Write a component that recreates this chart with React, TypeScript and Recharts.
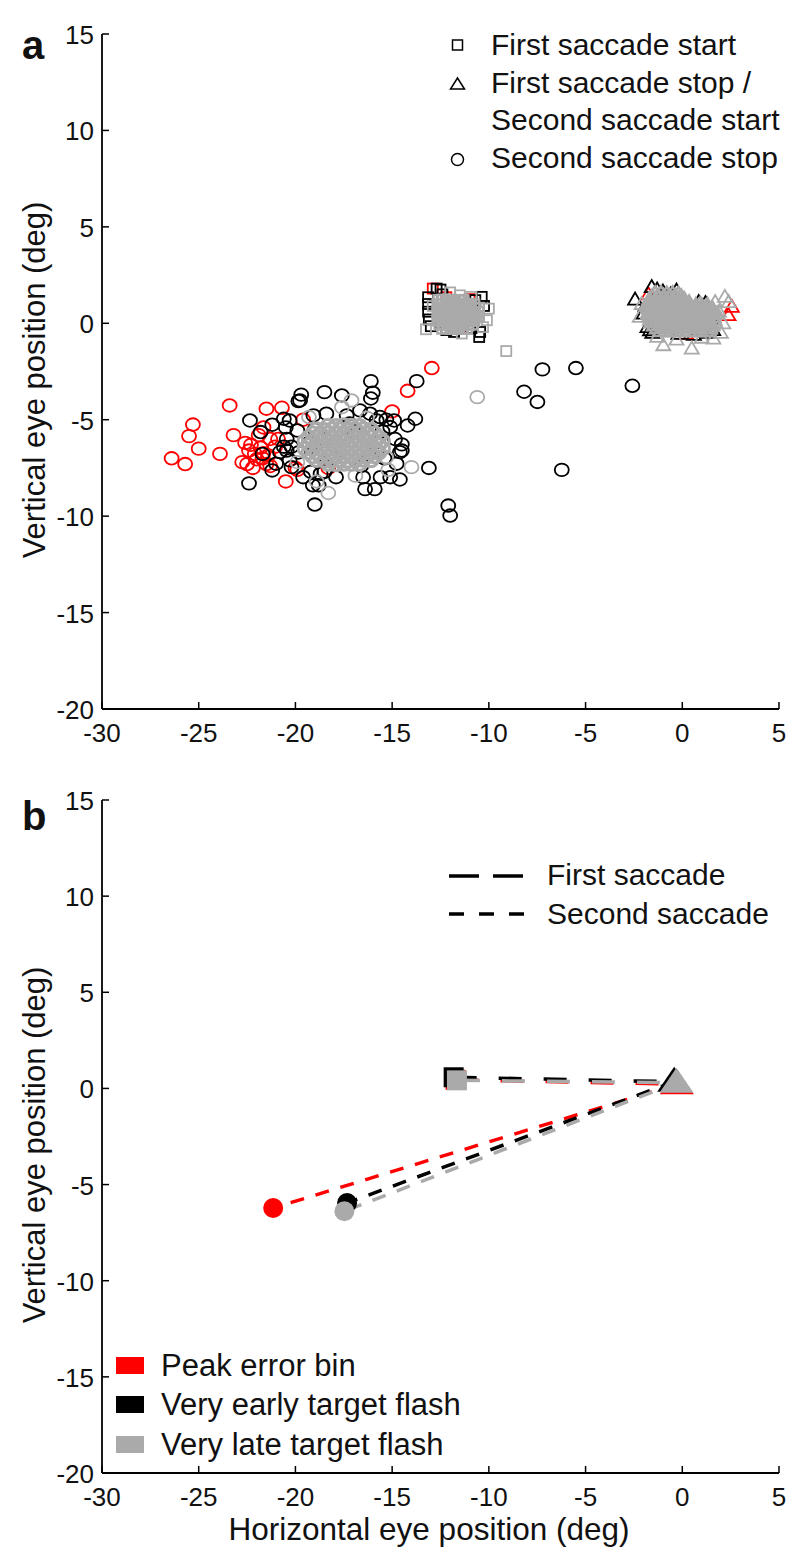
import React from "react";
import { ScatterChart, Scatter, XAxis, YAxis } from "recharts";

type Pt = [number, number];

const xTicks = [-30, -25, -20, -15, -10, -5, 0, 5];
const yTicks = [-20, -15, -10, -5, 0, 5, 10, 15];

// ---- panel a: first saccade start (squares)
const redStart: Pt[] = [[-12.9, 1.8], [-11.0, 1.25], [-12.2, 1.35], [-10.8, 0.5], [-11.5, -0.3]];
const blackStart: Pt[] = [
  [-12.7, 1.8], [-13.14, 1.35], [-13.14, 1.0], [-13.14, 0.6], [-13.1, 0.2], [-13.0, -0.15], [-12.5, 1.75],
  [-10.37, 1.37], [-10.5, -0.71], [-10.45, -0.45], [-12.2, -0.35], [-11.8, -0.45], [-10.9, -0.25], [-12.4, 1.5],
  [-10.25, 0.9], [-12.0, 0.6], [-11.2, 0.2], [-11.6, 1.0], [-12.4, 0.0], [-10.7, 1.2],
];
const grayStart: Pt[] = [
  [-13.25, -0.31], [-9.1, -1.44], [-11.4, -0.53], [-10.9, 1.37], [-12.0, 1.6], [-10.0, 0.76], [-10.1, 0.16],
  [-12.9, 0.9], [-10.3, -0.2], [-11.5, 1.45],
];
const grayStartCore: Pt[] = [
  [-12.6, 1.2], [-12.39, 1.22], [-12.18, 1.19], [-11.97, 1.21], [-11.76, 1.2], [-11.55, 1.18], [-11.34, 1.2],
  [-12.65, 0.99], [-12.44, 1.0], [-12.23, 0.98], [-12.02, 1.0], [-11.81, 0.99], [-11.6, 1.01], [-11.39, 0.98], [-11.18, 0.99], [-10.97, 1.0], [-10.76, 0.97],
  [-12.62, 0.78], [-12.41, 0.79], [-12.2, 0.77], [-11.99, 0.78], [-11.78, 0.8], [-11.57, 0.78], [-11.36, 0.77], [-11.15, 0.79], [-10.94, 0.78], [-10.73, 0.77], [-10.52, 0.79],
  [-12.65, 0.57], [-12.44, 0.58], [-12.23, 0.56], [-12.02, 0.57], [-11.81, 0.59], [-11.6, 0.57], [-11.39, 0.56], [-11.18, 0.58], [-10.97, 0.57], [-10.76, 0.56], [-10.55, 0.58],
  [-12.62, 0.36], [-12.41, 0.37], [-12.2, 0.35], [-11.99, 0.36], [-11.78, 0.38], [-11.57, 0.36], [-11.36, 0.35], [-11.15, 0.37], [-10.94, 0.36], [-10.73, 0.35], [-10.52, 0.37],
  [-12.65, 0.15], [-12.44, 0.16], [-12.23, 0.14], [-12.02, 0.15], [-11.81, 0.17], [-11.6, 0.15], [-11.39, 0.14], [-11.18, 0.16], [-10.97, 0.15], [-10.76, 0.14],
  [-12.55, -0.06], [-12.34, -0.05], [-12.13, -0.07], [-11.92, -0.06], [-11.71, -0.04], [-11.5, -0.06], [-11.29, -0.07], [-11.08, -0.05], [-10.87, -0.06],
  [-12.4, -0.27], [-12.19, -0.26], [-11.98, -0.28], [-11.77, -0.27], [-11.56, -0.25], [-11.35, -0.27], [-11.14, -0.28],
];

// ---- panel a: first saccade stop / second saccade start (triangles)
const redMid: Pt[] = [[2.56, 0.85], [2.39, 0.42], [-1.75, 1.5], [-1.2, 1.3], [1.4, 0.0], [0.2, -0.55], [-1.4, 0.5]];
const blackMid: Pt[] = [
  [-2.44, 1.23], [-1.58, 1.88], [-1.67, -0.36], [-1.9, 0.9], [-1.3, 1.75], [-1.0, 1.65], [-0.6, 1.5], [-0.3, 1.7],
  [0.85, 1.1], [1.2, 1.05], [-1.55, -0.5], [-0.2, -0.55], [0.6, -0.6], [1.5, 0.25], [-2.0, 0.5], [-0.8, 0.6],
  [0.3, 0.2], [-1.2, 0.0], [0.9, -0.3], [1.6, -0.35], [-1.8, -0.2], [0.0, 0.9], [1.3, -0.5],
];
const grayMid: Pt[] = [
  [-2.2, 0.33], [-0.98, -1.14], [0.49, -1.31], [1.61, -0.8], [2.2, 1.37], [2.12, 0.0], [0.92, 1.02], [2.4, 1.1],
  [1.9, 0.6], [1.0, -0.75], [-0.3, -0.85], [-2.1, 1.0], [2.0, -0.5], [-1.3, -0.7], [1.7, 1.1],
];
const grayMidCore: Pt[] = [
  [-1.4, 1.55], [-1.1, 1.56], [-0.8, 1.54], [-0.5, 1.55], [-0.2, 1.53],
  [-1.55, 1.4], [-1.25, 1.41], [-0.95, 1.39], [-0.65, 1.4], [-0.35, 1.42], [-0.05, 1.39],
  [-1.7, 1.25], [-1.4, 1.26], [-1.1, 1.24], [-0.8, 1.25], [-0.5, 1.27], [-0.2, 1.24], [0.1, 1.25],
  [-1.75, 1.1], [-1.45, 1.11], [-1.15, 1.09], [-0.85, 1.1], [-0.55, 1.12], [-0.25, 1.09], [0.05, 1.1], [0.35, 1.08],
  [-1.7, 0.95], [-1.4, 0.96], [-1.1, 0.94], [-0.8, 0.95], [-0.5, 0.97], [-0.2, 0.94], [0.1, 0.95], [0.4, 0.96], [0.7, 0.94], [1.0, 0.93], [1.3, 0.95],
  [-1.75, 0.8], [-1.45, 0.81], [-1.15, 0.79], [-0.85, 0.8], [-0.55, 0.82], [-0.25, 0.79], [0.05, 0.8], [0.35, 0.81], [0.65, 0.79], [0.95, 0.8], [1.25, 0.82], [1.55, 0.79],
  [-1.7, 0.65], [-1.4, 0.66], [-1.1, 0.64], [-0.8, 0.65], [-0.5, 0.67], [-0.2, 0.64], [0.1, 0.65], [0.4, 0.66], [0.7, 0.64], [1.0, 0.65], [1.3, 0.67], [1.6, 0.64],
  [-1.75, 0.5], [-1.45, 0.51], [-1.15, 0.49], [-0.85, 0.5], [-0.55, 0.52], [-0.25, 0.49], [0.05, 0.5], [0.35, 0.51], [0.65, 0.49], [0.95, 0.5], [1.25, 0.52], [1.55, 0.49], [1.8, 0.5],
  [-1.7, 0.35], [-1.4, 0.36], [-1.1, 0.34], [-0.8, 0.35], [-0.5, 0.37], [-0.2, 0.34], [0.1, 0.35], [0.4, 0.36], [0.7, 0.34], [1.0, 0.35], [1.3, 0.37], [1.6, 0.34],
  [-1.65, 0.2], [-1.35, 0.21], [-1.05, 0.19], [-0.75, 0.2], [-0.45, 0.22], [-0.15, 0.19], [0.15, 0.2], [0.45, 0.21], [0.75, 0.19], [1.05, 0.2], [1.35, 0.22], [1.65, 0.19],
  [-1.6, 0.05], [-1.3, 0.06], [-1.0, 0.04], [-0.7, 0.05], [-0.4, 0.07], [-0.1, 0.04], [0.2, 0.05], [0.5, 0.06], [0.8, 0.04], [1.1, 0.05], [1.4, 0.07], [1.7, 0.04],
  [-1.45, -0.1], [-1.15, -0.09], [-0.85, -0.11], [-0.55, -0.1], [-0.25, -0.08], [0.05, -0.11], [0.35, -0.1], [0.65, -0.09], [0.95, -0.11], [1.25, -0.1], [1.55, -0.08],
  [-1.3, -0.25], [-1.0, -0.24], [-0.7, -0.26], [-0.4, -0.25], [-0.1, -0.23], [0.2, -0.26], [0.5, -0.25], [0.8, -0.24], [1.1, -0.26], [1.4, -0.25],
  [-1.15, -0.4], [-0.85, -0.39], [-0.55, -0.41], [-0.25, -0.4], [0.05, -0.38], [0.35, -0.41], [0.65, -0.4], [0.95, -0.39], [1.25, -0.41],
];

// ---- panel a: second saccade stop (circles)
const redStop: Pt[] = [
  [-26.4, -7.0], [-25.7, -7.3], [-25.5, -5.85], [-25.3, -5.25], [-25.0, -6.5], [-23.9, -6.77], [-23.4, -4.26],
  [-23.2, -5.8], [-22.6, -6.2], [-22.75, -7.2], [-22.5, -7.3], [-22.2, -7.5], [-22.1, -6.77], [-21.9, -5.8],
  [-21.65, -5.4], [-21.5, -4.43], [-20.7, -4.38], [-21.65, -6.73], [-21.7, -7.0], [-20.5, -8.2], [-21.3, -6.0],
  [-21.05, -6.4], [-22.4, -6.6], [-22.0, -7.05], [-21.8, -6.45], [-22.3, -6.3], [-21.4, -6.85], [-21.5, -7.3],
  [-20.9, -6.0], [-19.9, -7.6], [-21.3, -7.4], [-20.0, -7.5], [-18.3, -7.5], [-15.0, -4.57], [-14.2, -3.5],
  [-12.95, -2.32], [-19.6, -5.0],
];
const blackStop: Pt[] = [
  [-19.7, -3.7], [-19.85, -4.03], [-22.35, -5.04], [-21.8, -5.64], [-21.2, -5.26], [-20.6, -4.95], [-21.7, -6.77],
  [-20.8, -6.68], [-21.2, -7.63], [-22.4, -8.3], [-20.2, -7.46], [-16.1, -3.0], [-16.1, -3.9], [-16.0, -3.6],
  [-18.5, -3.57], [-17.6, -3.74], [-13.73, -3.0], [-13.8, -4.95], [-13.1, -7.5], [-19.0, -9.4], [-14.6, -8.1],
  [-14.9, -5.04], [-14.5, -6.28], [-14.5, -6.6], [-15.6, -7.98], [-16.4, -8.6], [-15.9, -8.6], [-16.66, -4.52],
  [-15.8, -5.04], [-15.3, -5.0], [-12.1, -9.45], [-12.0, -9.97], [-18.7, -7.8], [-19.1, -8.4], [-7.23, -2.39],
  [-5.5, -2.32], [-8.18, -3.55], [-7.49, -4.08], [-2.58, -3.24], [-6.23, -7.6],
  [-20.5, -5.4], [-20.45, -6.0], [-20.45, -6.6], [-19.85, -6.7], [-19.2, -7.7], [-18.5, -7.7], [-17.9, -7.98],
  [-16.5, -7.98], [-15.1, -7.98], [-14.77, -7.28], [-14.6, -6.68], [-14.85, -6.0], [-15.1, -5.38], [-15.63, -4.86],
  [-16.14, -4.69], [-17.35, -4.78], [-18.4, -4.69], [-19.07, -4.78], [-19.76, -4.0],
  [-20.3, -5.04], [-19.9, -5.56], [-20.2, -6.4], [-20.6, -6.4], [-20.3, -7.1], [-21.0, -7.28], [-19.6, -7.98], [-18.8, -8.4],
  [-18.5, -6.0], [-17.0, -5.6], [-16.2, -6.8], [-18.0, -7.0], [-17.5, -6.5], [-19.0, -5.5], [-15.9, -6.2],
  [-16.6, -7.4], [-18.8, -6.8], [-17.2, -5.2], [-19.3, -6.2], [-15.4, -7.0], [-15.5, -5.6], [-14.2, -5.3],
];
const grayStop: Pt[] = [
  [-10.6, -3.83], [-18.3, -8.8], [-17.1, -4.0], [-17.6, -4.35], [-14.0, -7.46], [-19.3, -4.86], [-15.3, -6.94],
  [-16.3, -4.9], [-15.2, -7.6], [-18.9, -8.2], [-16.9, -7.9], [-19.9, -7.2],
];
const grayStopCore: Pt[] = [
  [-18.3, -5.3], [-17.9, -5.32], [-17.5, -5.28], [-17.1, -5.3], [-16.7, -5.31],
  [-18.9, -5.5], [-18.5, -5.52], [-18.1, -5.49], [-17.7, -5.5], [-17.3, -5.53], [-16.9, -5.5], [-16.5, -5.48], [-16.1, -5.51],
  [-19.1, -5.7], [-18.7, -5.72], [-18.3, -5.69], [-17.9, -5.7], [-17.5, -5.73], [-17.1, -5.7], [-16.7, -5.68], [-16.3, -5.71], [-15.9, -5.7],
  [-19.3, -5.9], [-18.9, -5.92], [-18.5, -5.89], [-18.1, -5.9], [-17.7, -5.93], [-17.3, -5.9], [-16.9, -5.88], [-16.5, -5.91], [-16.1, -5.9], [-15.7, -5.92],
  [-19.5, -6.1], [-19.1, -6.12], [-18.7, -6.09], [-18.3, -6.1], [-17.9, -6.13], [-17.5, -6.1], [-17.1, -6.08], [-16.7, -6.11], [-16.3, -6.1], [-15.9, -6.12], [-15.5, -6.09],
  [-19.3, -6.3], [-18.9, -6.32], [-18.5, -6.29], [-18.1, -6.3], [-17.7, -6.33], [-17.3, -6.3], [-16.9, -6.28], [-16.5, -6.31], [-16.1, -6.3], [-15.7, -6.32],
  [-19.5, -6.5], [-19.1, -6.52], [-18.7, -6.49], [-18.3, -6.5], [-17.9, -6.53], [-17.5, -6.5], [-17.1, -6.48], [-16.7, -6.51], [-16.3, -6.5], [-15.9, -6.52], [-15.5, -6.49],
  [-19.3, -6.7], [-18.9, -6.72], [-18.5, -6.69], [-18.1, -6.7], [-17.7, -6.73], [-17.3, -6.7], [-16.9, -6.68], [-16.5, -6.71], [-16.1, -6.7], [-15.7, -6.72],
  [-19.1, -6.9], [-18.7, -6.92], [-18.3, -6.89], [-17.9, -6.9], [-17.5, -6.93], [-17.1, -6.9], [-16.7, -6.88], [-16.3, -6.91], [-15.9, -6.9],
  [-18.9, -7.1], [-18.5, -7.12], [-18.1, -7.09], [-17.7, -7.1], [-17.3, -7.13], [-16.9, -7.1], [-16.5, -7.08], [-16.1, -7.11],
  [-18.3, -7.3], [-17.9, -7.32], [-17.5, -7.29], [-17.1, -7.3], [-16.7, -7.31],
];

// ---- panel b: mean positions [start, first stop / second start, second stop]
const peakPath: Pt[] = [[-11.72, 0.45], [-0.28, 0.22], [-21.15, -6.22]];
const earlyPath: Pt[] = [[-11.82, 0.58], [-0.42, 0.35], [-17.33, -5.96]];
const latePath: Pt[] = [[-11.65, 0.42], [-0.3, 0.3], [-17.47, -6.39]];

const RED = "#ff0000";
const BLACK = "#000000";
const GRAY = "#aaaaaa";
const FONT = "'Liberation Sans', Arial, Helvetica, sans-serif";

const toData = (pts: Pt[]) => pts.map(([x, y]) => ({ x, y }));

const ring = (color: string, w = 1.8) => (p: any) =>
  <ellipse cx={p.cx} cy={p.cy} rx={7} ry={6.3} fill="none" stroke={color} strokeWidth={w} />;
const box = (color: string, w = 1.8) => (p: any) =>
  <rect x={p.cx - 5} y={p.cy - 5} width={10} height={10} fill="none" stroke={color} strokeWidth={w} />;
const tri = (color: string, w = 1.8) => (p: any) =>
  <polygon points={`${p.cx},${p.cy - 7} ${p.cx - 7},${p.cy + 5} ${p.cx + 7},${p.cy + 5}`} fill="none" stroke={color} strokeWidth={w} />;

const dot = (color: string) => (p: any) => <circle cx={p.cx} cy={p.cy} r={10} fill={color} />;
const bigBox = (color: string) => (p: any) =>
  <rect x={p.cx - 10} y={p.cy - 10} width={20} height={20} fill={color} />;
const bigTri = (color: string) => (p: any) =>
  <polygon points={`${p.cx},${p.cy - 15} ${p.cx - 17},${p.cy + 10} ${p.cx + 17},${p.cy + 10}`} fill={color} />;
const none = () => <g />;

const XTick = (p: any) => (
  <g>
    <line x1={p.x} x2={p.x} y1={p.y} y2={p.y - 7} stroke="#000" strokeWidth={1.5} />
    <text x={p.x} y={p.y + 33} textAnchor="middle" fontSize={26} fontFamily={FONT} fill="#111">
      {p.payload.value}
    </text>
  </g>
);

const YTick = (p: any) => (
  <g>
    <line x1={p.x} x2={p.x + 7} y1={p.y} y2={p.y} stroke="#000" strokeWidth={1.5} />
    <text x={p.x - 8} y={p.y + 10} textAnchor="end" fontSize={26} fontFamily={FONT} fill="#111">
      {p.payload.value}
    </text>
  </g>
);

function PanelA() {
  return (
    <ScatterChart width={800} height={760} margin={{ top: 34, right: 21, bottom: 11, left: 42 }}>
      <XAxis type="number" dataKey="x" domain={[-30, 5]} ticks={xTicks} interval={0} height={40}
        tickSize={0} tickMargin={0} tick={<XTick />} axisLine={{ stroke: "#000", strokeWidth: 1.8 }} />
      <YAxis type="number" dataKey="y" domain={[-20, 15]} ticks={yTicks} interval={0} width={60}
        tickSize={0} tickMargin={0} tick={<YTick />} axisLine={{ stroke: "#000", strokeWidth: 1.8 }} />
      <Scatter data={toData(redStop)} shape={ring(RED)} isAnimationActive={false} />
      <Scatter data={toData(redStart)} shape={box(RED)} isAnimationActive={false} />
      <Scatter data={toData(redMid)} shape={tri(RED)} isAnimationActive={false} />
      <Scatter data={toData(blackStop)} shape={ring(BLACK)} isAnimationActive={false} />
      <Scatter data={toData(blackStart)} shape={box(BLACK)} isAnimationActive={false} />
      <Scatter data={toData(blackMid)} shape={tri(BLACK)} isAnimationActive={false} />
      <Scatter data={toData(grayStop)} shape={ring(GRAY)} isAnimationActive={false} />
      <Scatter data={toData(grayStopCore)} shape={ring(GRAY, 3)} isAnimationActive={false} />
      <Scatter data={toData(grayStart)} shape={box(GRAY)} isAnimationActive={false} />
      <Scatter data={toData(grayStartCore)} shape={box(GRAY, 2.4)} isAnimationActive={false} />
      <Scatter data={toData(grayMid)} shape={tri(GRAY)} isAnimationActive={false} />
      <Scatter data={toData(grayMidCore)} shape={tri(GRAY, 2.4)} isAnimationActive={false} />
    </ScatterChart>
  );
}

const paths: [Pt[], string][] = [[peakPath, RED], [earlyPath, BLACK], [latePath, GRAY]];

function PanelB() {
  return (
    <ScatterChart width={800} height={800} margin={{ top: 40, right: 21, bottom: 47, left: 42 }}>
      <XAxis type="number" dataKey="x" domain={[-30, 5]} ticks={xTicks} interval={0} height={40}
        tickSize={0} tickMargin={0} tick={<XTick />} axisLine={{ stroke: "#000", strokeWidth: 1.8 }} />
      <YAxis type="number" dataKey="y" domain={[-20, 15]} ticks={yTicks} interval={0} width={60}
        tickSize={0} tickMargin={0} tick={<YTick />} axisLine={{ stroke: "#000", strokeWidth: 1.8 }} />
      {paths.map(([p, c], i) => (
        <Scatter key={"f" + i} data={toData([p[0], p[1]])} shape={none} isAnimationActive={false}
          line={{ stroke: c, strokeWidth: 3.5, strokeDasharray: "23 22" }} />
      ))}
      {paths.map(([p, c], i) => (
        <Scatter key={"s" + i} data={toData([p[1], p[2]])} shape={none} isAnimationActive={false}
          line={{ stroke: c, strokeWidth: 3.5, strokeDasharray: "14 12" }} />
      ))}
      {paths.map(([p, c], i) => (
        <Scatter key={"q" + i} data={toData([p[0]])} shape={bigBox(c)} isAnimationActive={false} />
      ))}
      {paths.map(([p, c], i) => (
        <Scatter key={"t" + i} data={toData([p[1]])} shape={bigTri(c)} isAnimationActive={false} />
      ))}
      {paths.map(([p, c], i) => (
        <Scatter key={"c" + i} data={toData([p[2]])} shape={dot(c)} isAnimationActive={false} />
      ))}
    </ScatterChart>
  );
}

function Overlay() {
  const t = { fontFamily: FONT, fill: "#111" } as const;
  return (
    <svg width={800} height={1560} style={{ position: "absolute", left: 0, top: 0, pointerEvents: "none" }}>
      <text x={22} y={59} fontSize={40} fontWeight="bold" {...t}>a</text>
      <text x={22} y={830} fontSize={40} fontWeight="bold" {...t}>b</text>
      <text transform="translate(45,380) rotate(-90)" textAnchor="middle" fontSize={31} {...t}>Vertical eye position (deg)</text>
      <text transform="translate(45,1145) rotate(-90)" textAnchor="middle" fontSize={31} {...t}>Vertical eye position (deg)</text>
      <text x={429} y={1540} textAnchor="middle" fontSize={31.5} {...t}>Horizontal eye position (deg)</text>

      <rect x={452.5} y={40} width={10} height={10} fill="none" stroke="#000" strokeWidth={1.5} />
      <polygon points="457.5,78 450.5,89 464.5,89" fill="none" stroke="#000" strokeWidth={1.5} />
      <circle cx={457.5} cy={159.5} r={6} fill="none" stroke="#000" strokeWidth={1.5} />
      <text x={491} y={55} fontSize={30} {...t}>First saccade start</text>
      <text x={491} y={93} fontSize={30} {...t}>First saccade stop /</text>
      <text x={491} y={130} fontSize={30} {...t}>Second saccade start</text>
      <text x={491} y={168} fontSize={30} {...t}>Second saccade stop</text>

      <line x1={449} x2={523} y1={876} y2={876} stroke="#000" strokeWidth={3.5} strokeDasharray="30 14" />
      <line x1={449} x2={525} y1={914} y2={914} stroke="#000" strokeWidth={3.5} strokeDasharray="15 15" />
      <text x={547} y={885} fontSize={30} {...t}>First saccade</text>
      <text x={547} y={924} fontSize={30} {...t}>Second saccade</text>

      <rect x={116} y={1357} width={28} height={17} fill={RED} />
      <rect x={116} y={1396} width={28} height={17} fill={BLACK} />
      <rect x={116} y={1436} width={28} height={17} fill={GRAY} />
      <text x={161} y={1376} fontSize={31} {...t}>Peak error bin</text>
      <text x={161} y={1415} fontSize={31} {...t}>Very early target flash</text>
      <text x={161} y={1455} fontSize={31} {...t}>Very late target flash</text>
    </svg>
  );
}

export default function App() {
  return (
    <div style={{ position: "absolute", left: 0, top: 0, width: 800, height: 1560, background: "#fff" }}>
      <div style={{ position: "absolute", left: 0, top: 0 }}>
        <PanelA />
      </div>
      <div style={{ position: "absolute", left: 0, top: 760 }}>
        <PanelB />
      </div>
      <Overlay />
    </div>
  );
}
